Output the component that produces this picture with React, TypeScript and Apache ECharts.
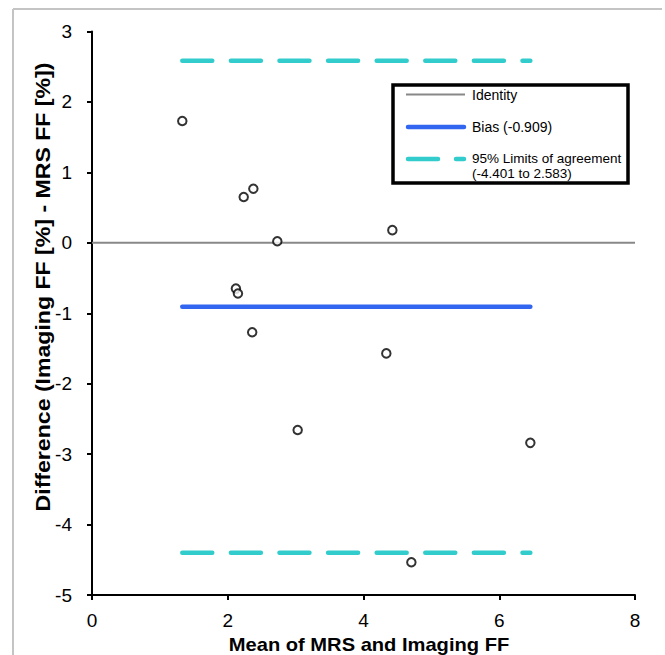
import React, { useEffect, useRef } from "react";
import * as echarts from "echarts";

const meanVals = [1.33, 2.235, 2.377, 2.73, 4.425, 2.12, 2.15, 2.36, 4.336, 3.03, 6.458, 4.705];
const diffVals = [1.73, 0.65, 0.768, 0.022, 0.18, -0.65, -0.72, -1.27, -1.57, -2.657, -2.84, -4.535];
const biasValue = -0.909;
const lowerLimit = -4.401;
const upperLimit = 2.583;
const xTicks = [0, 2, 4, 6, 8];
const yTicks = [-5, -4, -3, -2, -1, 0, 1, 2, 3];
const xTitle = "Mean of MRS and Imaging FF";
const yTitle = "Difference (Imaging FF [%] - MRS FF [%])";
const legendLabels = ["Identity", "Bias (-0.909)", "95% Limits of agreement", "(-4.401 to 2.583)"];

const FONT = "'Liberation Sans', Arial, sans-serif";
const BLUE = "#3366f0";
const TEAL = "#33cccc";

export default function App() {
  const ref = useRef<HTMLDivElement>(null);
  useEffect(() => {
    if (!ref.current) return;
    const chart = echarts.init(ref.current, null, { renderer: "svg" });
    const xMin = Math.min(...meanVals);
    const xMax = Math.max(...meanVals);
    const hLine = (y: number, x0: number, x1: number) => [[x0, y], [x1, y]];
    chart.setOption({
      animation: false,
      backgroundColor: "#ffffff",
      grid: { left: 92, top: 31.5, width: 543, height: 563.5, containLabel: false, outerBoundsMode: "none" },
      xAxis: {
        type: "value",
        min: xTicks[0],
        max: xTicks[xTicks.length - 1],
        interval: 2,
        axisLine: { onZero: false, lineStyle: { color: "#000", width: 2 } },
        axisTick: { show: true, length: 5, lineStyle: { color: "#000", width: 2 } },
        axisLabel: { fontFamily: FONT, fontSize: 19, color: "#000", margin: 16 },
        splitLine: { show: false },
      },
      yAxis: {
        type: "value",
        min: yTicks[0],
        max: yTicks[yTicks.length - 1],
        interval: 1,
        axisLine: { onZero: false, lineStyle: { color: "#000", width: 2 } },
        axisTick: { show: true, length: 5, lineStyle: { color: "#000", width: 2 } },
        axisLabel: { fontFamily: FONT, fontSize: 19, color: "#000", margin: 20 },
        splitLine: { show: false },
      },
      graphic: [
        { type: "line", shape: { x1: 13, y1: 9, x2: 662, y2: 9 }, style: { stroke: "#c4c4c4", lineWidth: 2 } },
        { type: "line", shape: { x1: 13, y1: 9, x2: 13, y2: 655 }, style: { stroke: "#c4c4c4", lineWidth: 2 } },
        {
          type: "text",
          x: 43,
          y: 287,
          rotation: Math.PI / 2,
          scaleX: 1.1,
          style: {
            text: yTitle,
            fontFamily: FONT,
            fontSize: 21,
            fontWeight: "bold",
            fill: "#000",
            textAlign: "center",
            textVerticalAlign: "middle",
          },
        },
        {
          type: "text",
          x: 369,
          y: 645,
          scaleX: 1.15,
          style: {
            text: xTitle,
            fontFamily: FONT,
            fontSize: 17.5,
            fontWeight: "bold",
            fill: "#000",
            textAlign: "center",
            textVerticalAlign: "middle",
          },
        },
        { type: "rect", shape: { x: 393, y: 85, width: 235, height: 98 }, style: { fill: "#fff", stroke: "#000", lineWidth: 3.5 }, z: 10 },
        { type: "line", shape: { x1: 406, y1: 94.5, x2: 465, y2: 94.5 }, style: { stroke: "#888", lineWidth: 2 }, z: 11 },
        { type: "line", shape: { x1: 408, y1: 127, x2: 464, y2: 127 }, style: { stroke: BLUE, lineWidth: 4.5, lineCap: "round" }, z: 11 },
        { type: "line", shape: { x1: 408, y1: 159, x2: 438, y2: 159 }, style: { stroke: TEAL, lineWidth: 4.5, lineCap: "round" }, z: 11 },
        { type: "line", shape: { x1: 456, y1: 159, x2: 464, y2: 159 }, style: { stroke: TEAL, lineWidth: 4.5, lineCap: "round" }, z: 11 },
        { type: "text", x: 472, y: 95, style: { text: legendLabels[0], fontFamily: FONT, fontSize: 14, fill: "#000", textVerticalAlign: "middle" }, z: 11 },
        { type: "text", x: 472, y: 127, style: { text: legendLabels[1], fontFamily: FONT, fontSize: 14, fill: "#000", textVerticalAlign: "middle" }, z: 11 },
        {
          type: "text",
          x: 472,
          y: 151.5,
          style: {
            text: legendLabels[2] + "\n" + legendLabels[3],
            fontFamily: FONT,
            fontSize: 13.5,
            lineHeight: 14.5,
            fill: "#000",
            textVerticalAlign: "top",
          },
          z: 11,
        },
      ],
      series: [
        {
          type: "line",
          data: hLine(0, xTicks[0], xTicks[xTicks.length - 1]),
          symbol: "none",
          lineStyle: { color: "#888", width: 2 },
          z: 1,
        },
        {
          type: "line",
          data: hLine(biasValue, xMin, xMax),
          symbol: "none",
          lineStyle: { color: BLUE, width: 4.5, cap: "round" },
          z: 2,
        },
        {
          type: "line",
          data: hLine(upperLimit, xMin, xMax),
          symbol: "none",
          lineStyle: { color: TEAL, width: 4.5, cap: "round", type: [30, 18.6] },
          z: 2,
        },
        {
          type: "line",
          data: hLine(lowerLimit, xMin, xMax),
          symbol: "none",
          lineStyle: { color: TEAL, width: 4.5, cap: "round", type: [30, 18.6] },
          z: 2,
        },
        {
          type: "scatter",
          data: meanVals.map((m, i) => [m, diffVals[i]]),
          symbol: "circle",
          symbolSize: 8.5,
          itemStyle: { color: "#fff", borderColor: "#000", borderWidth: 2 },
          z: 5,
        },
      ],
    });
    return () => chart.dispose();
  }, []);
  return <div ref={ref} style={{ position: "fixed", left: 0, top: 0, width: 665, height: 655 }} />;
}
